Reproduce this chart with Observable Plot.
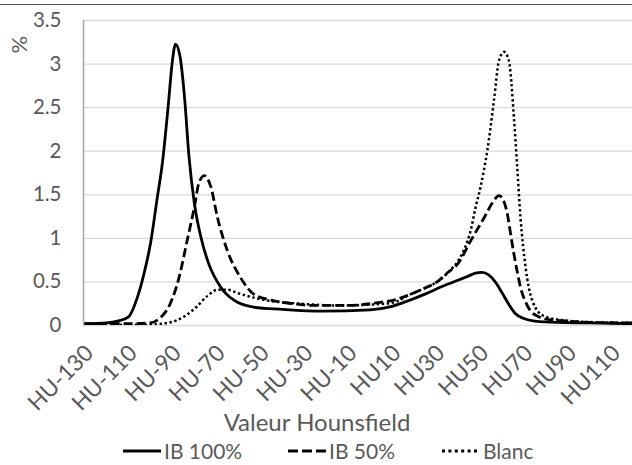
<!DOCTYPE html>
<html><head><meta charset="utf-8">
<script src="https://cdn.jsdelivr.net/npm/d3@7"></script>
<script src="https://cdn.jsdelivr.net/npm/@observablehq/plot@0.6"></script>
<style>
body{margin:0;background:#fff;font-family:Lato,"Open Sans",sans-serif;}
#frame{margin-top:4px;border-top:1.5px solid #5a5a5a;width:632px;height:459px;overflow:hidden;position:relative;}
#legend{position:absolute;left:0;top:434px;width:632px;height:24px;}
#legend .item{position:absolute;top:0;height:24px;line-height:24px;display:flex;align-items:center;color:#595959;font-size:21px;font-family:Lato,sans-serif;white-space:nowrap;}
#legend svg{margin-right:3px;}
</style></head><body>
<div id="frame"><div id="chart"></div><div id="legend"></div></div>
<script>
// Series names
const seriesNames = ["IB 100%", "IB 50%", "Blanc"];

// IB 100% (solid)
const ib100HU = [-130,-120,-115,-110,-106,-103,-100,-97,-94.5,-92,-90,-88.6,-86.5,-84.5,-82.5,-80,-77,-73.5,-68,-62,-53,-40,-22,0,10,18,25,33,40,45,48,51,54,57,60,63,66,70,75,85,100,120];
const ib100Val = [0.02,0.03,0.05,0.1,0.32,0.59,0.94,1.45,1.88,2.5,3.04,3.23,3.08,2.62,1.95,1.40,1.01,0.71,0.44,0.29,0.21,0.185,0.165,0.18,0.22,0.29,0.36,0.45,0.52,0.57,0.6,0.61,0.58,0.5,0.38,0.25,0.14,0.08,0.05,0.035,0.03,0.02];

// IB 50% (dashed)
const ib50HU = [-130,-110,-100,-95.5,-91,-87,-83,-80,-78,-75.5,-72.5,-69.5,-65,-59,-53,-45,-35,-27,-10,3,12,18.5,25,30.5,35,40,46,52,56,58.7,61,62.5,64,65.5,67,68.5,71,73,76,79,85,90,100,120];
const ib50Val = [0.02,0.02,0.03,0.09,0.25,0.55,1.01,1.36,1.63,1.72,1.59,1.24,0.86,0.55,0.36,0.29,0.25,0.23,0.23,0.26,0.3,0.36,0.43,0.5,0.6,0.71,0.98,1.24,1.42,1.49,1.42,1.28,1.05,0.82,0.62,0.44,0.26,0.17,0.11,0.08,0.06,0.05,0.035,0.03];

// Blanc (dotted)
const blancHU = [-130,-100,-95,-88,-80,-74,-69.5,-65,-60,-53,-45,-31.5,-15,0,10,18.5,25,30.5,36,40,43,45.8,48,50.3,53.4,56.4,58.7,61,63.2,65.5,67,68.5,70.8,73.8,79,88,100,120];
const blancVal = [0.01,0.01,0.02,0.06,0.19,0.34,0.41,0.41,0.37,0.32,0.28,0.25,0.23,0.24,0.26,0.36,0.43,0.50,0.62,0.74,0.88,1.09,1.35,1.59,2.01,2.58,3.04,3.14,3.04,2.39,1.82,1.24,0.67,0.29,0.11,0.06,0.04,0.03];

// Axis ticks
const xTicks = [-130,-110,-90,-70,-50,-30,-10,10,30,50,70,90,110];
const yTicks = [0,0.5,1,1.5,2,2.5,3,3.5];
const xDomain = [-130.5, 119.5];
const yDomain = [0, 3.5];
const xTitle = "Valeur Hounsfield";
const yTitle = "%";

const styles = [
  {dash: null, width: 2.8, legendDash: null},
  {dash: "9,4", width: 2.8, legendDash: "10,4"},
  {dash: "2.4,2.6", width: 2.5, legendDash: "3,3.4"}
];

const toRows = (hu, val) => hu.map((h, i) => ({x: h, y: val[i]}));
const rows = [toRows(ib100HU, ib100Val), toRows(ib50HU, ib50Val), toRows(blancHU, blancVal)];

const grey = "#595959";
const chart = Plot.plot({
  width: 632,
  height: 432,
  marginLeft: 83,
  marginRight: 0,
  marginTop: 15,
  marginBottom: 112,
  style: {fontFamily: "Lato, 'Open Sans', sans-serif", background: "#fff"},
  x: {domain: xDomain},
  y: {domain: yDomain},
  marks: [
    Plot.gridY(yTicks, {stroke: "#d9d9d9", strokeOpacity: 1, strokeWidth: 1.3}),
    Plot.ruleX([xDomain[0]], {stroke: "#a6a6a6", strokeWidth: 1.5}),
    ...[2, 1, 0].map(i => Plot.line(rows[i], {
      x: "x", y: "y", curve: "monotone-x", clip: true,
      stroke: "#000", strokeWidth: styles[i].width,
      strokeDasharray: styles[i].dash, strokeLinecap: "butt", strokeLinejoin: "round"
    })),
    Plot.axisY(yTicks, {tickSize: 0, tickPadding: 20, dx: -2, fontSize: 20.5, fill: grey, label: null,
      tickFormat: d => String(d)}),
    Plot.axisX(xTicks, {tickSize: 0, tickRotate: -45, tickPadding: 24, dx: 5, fontSize: 22.5, fill: grey,
      tickFormat: d => "HU" + d, label: null}),
    Plot.text([xTitle], {text: d => d, frameAnchor: "bottom", lineAnchor: "middle", dx: -41, dy: 98, fontSize: 24, fill: grey}),
    Plot.text([yTitle], {text: d => d, frameAnchor: "top-left", rotate: -90, dx: -72, dy: 33, fontSize: 22, fill: grey})
  ]
});
document.getElementById("chart").appendChild(chart);

// Legend
const legend = document.getElementById("legend");
const legendLeft = [123, 288, 442];
seriesNames.forEach((name, i) => {
  const item = document.createElement("div");
  item.className = "item";
  item.style.left = legendLeft[i] + "px";
  const ns = "http://www.w3.org/2000/svg";
  const s = document.createElementNS(ns, "svg");
  s.setAttribute("width", 38);
  s.setAttribute("height", 10);
  const l = document.createElementNS(ns, "line");
  l.setAttribute("x1", 0); l.setAttribute("x2", 38);
  l.setAttribute("y1", 5); l.setAttribute("y2", 5);
  l.setAttribute("stroke", "#000");
  l.setAttribute("stroke-width", 3);
  if (styles[i].legendDash) l.setAttribute("stroke-dasharray", styles[i].legendDash);
  s.appendChild(l);
  item.appendChild(s);
  const t = document.createElement("span");
  t.textContent = name;
  item.appendChild(t);
  legend.appendChild(item);
});
</script>
</body></html>
